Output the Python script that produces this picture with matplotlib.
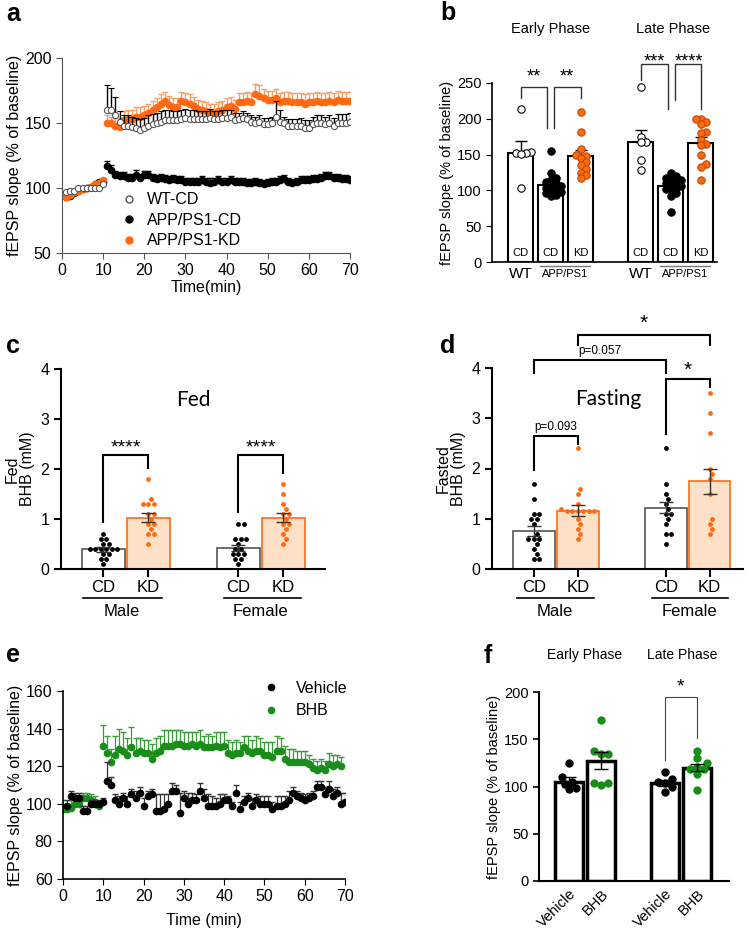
import matplotlib
matplotlib.use("Agg")
import matplotlib.pyplot as plt
from matplotlib.lines import Line2D
import numpy as np

plt.rcParams['font.family'] = ['Liberation Sans', 'DejaVu Sans']

# ---------------- data ----------------
# panel a: time course, t = 1..70 min
time_a = np.arange(1, 71)
wt_cd = [97, 98, 98, 100, 100, 100, 100, 100, 100, 103,
         160, 160, 156, 151, 148, 148, 147, 146, 145, 146,
         148, 149, 150, 151, 152, 152, 152, 152, 153, 154,
         153, 153, 153, 153, 153, 154, 153, 153, 154, 154,
         155, 152, 153, 154, 153, 151, 150, 151, 149, 149,
         150, 155, 151, 150, 148, 148, 148, 148, 146, 146,
         149, 150, 150, 149, 150, 148, 150, 150, 150, 151]
wt_cd_err = [1, 1, 1, 1, 1, 1, 1, 1, 1, 2,
             19, 17, 14, 8, 8, 8, 8, 8, 8, 8,
             8, 8, 8, 8, 8, 8, 7, 7, 7, 7,
             7, 7, 6, 6, 6, 7, 6, 6, 6, 6,
             5, 6, 5, 5, 5, 5, 5, 5, 5, 5,
             5, 12, 9, 5, 5, 5, 5, 6, 6, 6,
             6, 6, 6, 6, 6, 6, 7, 7, 7, 7]
app_cd = [93, 94, 96, 98, 99, 100, 101, 103, 105, 105,
          117, 114, 110, 109, 109, 108, 108, 110, 108, 110,
          110, 108, 107, 108, 107, 106, 107, 106, 106, 105,
          105, 105, 105, 106, 105, 104, 105, 106, 105, 105,
          106, 105, 105, 105, 104, 104, 105, 104, 103, 104,
          105, 105, 106, 107, 105, 104, 105, 106, 106, 106,
          107, 107, 108, 109, 109, 108, 108, 107, 107, 106]
app_cd_err = [1, 1, 1, 1, 1, 1, 1, 1, 1, 1,
              4, 4, 3, 3, 3, 3, 3, 4, 3, 3,
              3, 3, 3, 3, 3, 3, 3, 3, 3, 3,
              3, 3, 3, 3, 3, 4, 3, 3, 3, 3,
              3, 3, 3, 3, 3, 3, 3, 3, 3, 3,
              3, 3, 3, 3, 3, 3, 3, 3, 3, 3,
              3, 3, 3, 3, 3, 3, 3, 3, 3, 3]
app_kd = [93, 95, 97, 98, 99, 100, 101, 103, 104, 106,
          150, 150, 148, 147, 152, 153, 153, 155, 155, 156,
          158, 160, 162, 165, 167, 164, 162, 162, 167, 166,
          165, 163, 161, 160, 159, 158, 158, 159, 160, 162,
          163, 161, 166, 166, 167, 166, 172, 171, 169, 168,
          168, 169, 166, 167, 167, 166, 166, 166, 165, 166,
          166, 167, 166, 166, 167, 166, 168, 167, 167, 167]
app_kd_err = [1, 1, 1, 1, 1, 1, 1, 1, 1, 1,
              6, 5, 6, 7, 7, 7, 7, 7, 7, 7,
              7, 7, 7, 7, 7, 7, 7, 7, 7, 7,
              7, 7, 7, 7, 7, 7, 7, 7, 7, 7,
              7, 7, 7, 7, 7, 7, 8, 8, 7, 7,
              7, 7, 7, 7, 7, 7, 7, 7, 7, 7,
              7, 7, 7, 7, 7, 7, 7, 7, 7, 7]

# panel b: early / late phase
b_labels = ['CD', 'CD', 'KD']
b_early_means = [152, 108, 148]
b_early_sem = [17, 4, 8]
b_late_means = [168, 106, 166]
b_late_sem = [17, 4, 8]
b_early_pts = [[214, 153, 152, 152, 151, 104],
               [155, 124, 118, 115, 112, 110, 108, 106, 104, 102, 100, 98, 96, 94, 92],
               [210, 182, 158, 150, 148, 145, 140, 135, 130, 125, 122, 117]]
b_late_pts = [[244, 174, 168, 167, 143, 128],
              [125, 120, 118, 116, 114, 112, 110, 108, 106, 104, 102, 100, 96, 92, 70],
              [200, 200, 196, 193, 181, 180, 170, 165, 163, 150, 137, 132, 115]]

# panel c: fed BHB (mM) -> male CD, male KD, female CD, female KD
c_means = [0.40, 1.03, 0.43, 1.03]
c_sem = [0.05, 0.09, 0.06, 0.09]
c_pts = [[0.7, 0.6, 0.6, 0.5, 0.5, 0.4, 0.4, 0.4, 0.4, 0.4, 0.4, 0.3, 0.3, 0.2, 0.2, 0.1],
         [1.8, 1.4, 1.3, 1.3, 1.3, 1.1, 1.1, 1.0, 0.9, 0.9, 0.8, 0.7, 0.7, 0.5],
         [0.9, 0.9, 0.6, 0.6, 0.6, 0.5, 0.4, 0.4, 0.3, 0.3, 0.3, 0.2, 0.2, 0.1],
         [1.7, 1.5, 1.3, 1.2, 1.1, 1.1, 1.0, 0.9, 0.9, 0.8, 0.7, 0.6, 0.5]]

# panel d: fasted BHB (mM)
d_means = [0.75, 1.16, 1.22, 1.75]
d_sem = [0.10, 0.11, 0.11, 0.25]
d_pts = [[1.7, 1.4, 1.1, 1.1, 1.0, 1.0, 0.9, 0.7, 0.6, 0.6, 0.6, 0.5, 0.4, 0.3, 0.2, 0.2],
         [2.4, 1.6, 1.5, 1.3, 1.2, 1.15, 1.15, 1.15, 1.15, 1.15, 1.15, 1.0, 0.9, 0.8, 0.7, 0.6],
         [2.4, 1.7, 1.5, 1.4, 1.3, 1.2, 1.1, 1.1, 1.0, 0.9, 0.7, 0.7, 0.5],
         [3.5, 3.1, 2.7, 2.0, 1.9, 1.8, 1.5, 1.0, 0.9, 0.8, 0.7]]
cd_kd_labels = ['CD', 'KD', 'CD', 'KD']

# panel e: vehicle vs BHB time course
time_veh = np.arange(1, 71)
vehicle = [99, 104, 103, 103, 96, 96, 100, 100, 100, 101,
           112, 110, 102, 100, 103, 100, 105, 103, 106, 99,
           104, 105, 96, 96, 97, 100, 107, 107, 95, 103,
           100, 102, 102, 107, 103, 99, 99, 99, 100, 102,
           102, 99, 106, 97, 101, 103, 99, 102, 100, 100,
           100, 97, 99, 99, 100, 102, 106, 104, 103, 102,
           103, 104, 109, 109, 105, 108, 104, 106, 100, 101]
vehicle_err = [3, 3, 3, 3, 3, 3, 2, 2, 2, 2,
               10, 4, 3, 4, 3, 4, 3, 4, 3, 4,
               3, 3, 9, 9, 8, 5, 4, 3, 11, 4,
               6, 4, 3, 4, 5, 6, 5, 4, 5, 3,
               2, 2, 4, 4, 3, 3, 4, 3, 4, 4,
               4, 4, 5, 5, 4, 5, 3, 3, 3, 3,
               3, 3, 3, 3, 4, 4, 4, 3, 6, 5]
time_bhb = np.arange(0, 70)
bhb = [97, 97, 98, 100, 100, 103, 103, 102, 101, 99,
       131, 127, 122, 126, 129, 128, 126, 130, 127, 128,
       127, 127, 124, 127, 128, 131, 131, 131, 132, 132,
       131, 131, 132, 131, 132, 130, 130, 130, 131, 130,
       131, 127, 126, 127, 127, 130, 128, 127, 128, 128,
       126, 126, 125, 128, 128, 124, 122, 122, 122, 122,
       122, 121, 119, 118, 119, 118, 121, 120, 121, 120]
bhb_err = [5, 3, 4, 3, 3, 3, 3, 3, 3, 2,
           11, 9, 7, 10, 11, 10, 9, 11, 8, 7,
           7, 7, 8, 8, 8, 8, 8, 8, 7, 7,
           7, 7, 6, 7, 7, 6, 7, 6, 7, 8,
           7, 7, 7, 7, 6, 6, 8, 7, 8, 7,
           7, 7, 8, 8, 7, 7, 7, 7, 6, 6,
           6, 5, 5, 5, 5, 5, 6, 6, 5, 5]

# panel f: early / late phase, vehicle vs BHB
f_labels = ['Vehicle', 'BHB', 'Vehicle', 'BHB']
f_means = [105, 127, 104, 120]
f_sem = [5, 9, 3, 4]
f_pts = [[125, 110, 105, 103, 98, 97],
         [170, 138, 134, 134, 104, 104, 102],
         [115, 108, 105, 104, 99, 94],
         [138, 130, 125, 121, 118, 118, 113, 96]]

ORANGE = '#ff6a10'
ORANGE_L = '#f9a06a'
PEACH = '#fde0c6'
GREEN = '#1a8c1a'

fig = plt.figure(figsize=(7.5, 9.32), dpi=100)


def px_axes(l, t, r, b):
    return fig.add_axes([l / 750, 1 - b / 932, (r - l) / 750, (b - t) / 932])


def swarm(ax, xc, vals, dpx):
    # simple beeswarm: returns x positions (data) for the points
    vals = np.asarray(vals, float)
    pts = ax.transData.transform(np.column_stack([np.full(len(vals), xc), vals]))
    x0 = pts[0, 0]
    out = np.full(len(vals), x0)
    placed = []
    for i in np.argsort(vals):
        y = pts[i, 1]
        for k in range(40):
            off = ((k + 1) // 2) * (1 if k % 2 else -1) * dpx * 0.5
            x = x0 + off
            if all((x - px) ** 2 + (y - py) ** 2 >= (dpx * 0.95) ** 2 for px, py in placed):
                break
        placed.append((x, y))
        out[i] = x
    inv = ax.transData.inverted()
    return inv.transform(np.column_stack([out, vals]))[:, 0]


def bracket(ax, x1, x2, ytop, yl, yr, color='black', lw=1.5):
    ax.plot([x1, x1, x2, x2], [yl, ytop, ytop, yr], color=color, lw=lw,
            clip_on=False, solid_joinstyle='miter')


def letter(x, y, s):
    fig.text(x / 750, 1 - y / 932, s, fontsize=18, fontweight='bold', va='baseline')


# ---------------- panel a ----------------
ax = px_axes(62, 58, 350, 253)
ax.errorbar(time_a, app_cd, yerr=[np.zeros(70), app_cd_err], fmt='o', ms=4.5,
            mfc='black', mec='black', ecolor='black', elinewidth=1, capsize=2.5, zorder=2)
ax.errorbar(time_a, app_kd, yerr=[np.zeros(70), app_kd_err], fmt='o', ms=4.5,
            mfc=ORANGE, mec=ORANGE, ecolor=ORANGE_L, elinewidth=1, capsize=2.5, zorder=3)
ax.errorbar(time_a, wt_cd, yerr=[np.zeros(70), wt_cd_err], fmt='o', ms=4.5,
            mfc='white', mec='#555555', mew=0.8, ecolor='black', elinewidth=1, capsize=2.5, zorder=4)
ax.set_xlim(0, 70)
ax.set_ylim(50, 200)
ax.set_xticks(range(0, 71, 10))
ax.set_yticks([50, 100, 150, 200])
for s in ['top', 'right']:
    ax.spines[s].set_visible(False)
for s in ['left', 'bottom']:
    ax.spines[s].set_color('#555555')
ax.tick_params(colors='#555555', labelcolor='black', labelsize=11.5, length=4)
ax.set_xlabel('Time(min)', fontsize=11.5, labelpad=1)
ax.set_ylabel('fEPSP slope (% of baseline)', fontsize=11.5, labelpad=2)
handles = [Line2D([], [], ls='none', marker='o', ms=5, mfc='white', mec='#555555'),
           Line2D([], [], ls='none', marker='o', ms=5, mfc='black', mec='black'),
           Line2D([], [], ls='none', marker='o', ms=5, mfc=ORANGE, mec=ORANGE)]
ax.legend(handles, ['WT-CD', 'APP/PS1-CD', 'APP/PS1-KD'], loc='lower left',
          bbox_to_anchor=(0.15, -0.05), frameon=False, fontsize=11.5,
          handletextpad=0.5, labelspacing=0.35, handlelength=1.2)

# ---------------- panel b ----------------
ax = px_axes(492, 83, 717, 262)
ax.set_xlim(-0.95, 6.55)
ax.set_ylim(0, 250)
b_pos = [[0, 1, 2], [4, 5, 6]]
b_face = ['white', 'black', ORANGE]
b_edge = ['black', 'black', '#c24a00']
for pos, means, sem, pts in [(b_pos[0], b_early_means, b_early_sem, b_early_pts),
                             (b_pos[1], b_late_means, b_late_sem, b_late_pts)]:
    ax.bar(pos, means, width=0.86, color='white', edgecolor='black', lw=1.5, zorder=1)
    ax.errorbar(pos, means, yerr=[[0] * 3, sem], fmt='none', ecolor='black',
                elinewidth=1, capsize=4, zorder=2)
    for i in range(3):
        xs = swarm(ax, pos[i], pts[i], 5)
        ax.scatter(xs, pts[i], s=28, c=b_face[i], edgecolors=b_edge[i], linewidths=0.8, zorder=3)
        ax.text(pos[i], 12, b_labels[i], ha='center', va='center', fontsize=8, zorder=4)
    ax.text(pos[0], -17, 'WT', ha='center', va='center', fontsize=11, clip_on=False)
    ax.text((pos[1] + pos[2]) / 2, -17, 'APP/PS1', ha='center', va='center', fontsize=8)
    ax.plot([pos[1] - 0.35, pos[2] + 0.3], [-6, -6], color='#777777', lw=1, clip_on=False)
ax.text(1.0, 325, 'Early Phase', ha='center', va='center', fontsize=10.5)
ax.text(5.1, 325, 'Late Phase', ha='center', va='center', fontsize=10.5)
bracket(ax, 0, 0.88, 244, 229, 187, color='#333333', lw=1)
bracket(ax, 1.12, 2.0, 244, 187, 229, color='#333333', lw=1)
ax.text(0.44, 258, '**', ha='center', va='center', fontsize=13)
ax.text(1.56, 258, '**', ha='center', va='center', fontsize=13)
bracket(ax, 4.0, 4.9, 277, 254, 213, color='#333333', lw=1)
bracket(ax, 5.15, 6.0, 277, 226, 213, color='#333333', lw=1)
ax.text(4.45, 280, '***', ha='center', va='center', fontsize=13)
ax.text(5.6, 280, '****', ha='center', va='center', fontsize=13)
ax.set_xticks([])
ax.set_yticks(range(0, 251, 50))
for s in ['top', 'right']:
    ax.spines[s].set_visible(False)
for s in ['left', 'bottom']:
    ax.spines[s].set_linewidth(1.2)
ax.tick_params(labelsize=10.5, length=4)
ax.set_ylabel('fEPSP slope (% of baseline)', fontsize=10.5, labelpad=2)


# ---------------- panels c, d ----------------
def bhb_panel(ax, means, sem, pts, ylabel, title, title_x, group_lines):
    pos = [0, 1, 3, 4]
    faces = ['white', PEACH, 'white', PEACH]
    edges = ['#555555', ORANGE, '#555555', ORANGE]
    dots = ['black', ORANGE, 'black', ORANGE]
    ax.set_ylim(0, 4)
    for i in range(4):
        ax.bar(pos[i], means[i], width=0.95, color=faces[i], edgecolor=edges[i], lw=1.2, zorder=1)
        ax.errorbar(pos[i], means[i], yerr=sem[i], fmt='none', ecolor='#333333',
                    elinewidth=1, capsize=5, zorder=3)
        xs = swarm(ax, pos[i], pts[i], 5.5)
        ax.scatter(xs, pts[i], s=12, c=dots[i], linewidths=0, zorder=2)
    ax.set_xticks(pos)
    ax.set_xticklabels(cd_kd_labels, fontsize=12)
    ax.set_yticks(range(5))
    for s in ['top', 'right']:
        ax.spines[s].set_visible(False)
    for s in ['left', 'bottom']:
        ax.spines[s].set_linewidth(1.5)
    ax.tick_params(axis='y', labelsize=11.5, length=5, width=1.5)
    ax.tick_params(axis='x', length=6, width=1.5, pad=2)
    ax.set_ylabel(ylabel, fontsize=11.5, labelpad=4, linespacing=1.0)
    ax.text(title_x, 3.39, title, ha='center', va='center', fontsize=15, family='Lato')
    for (x1, x2, xt, name) in group_lines:
        ax.plot([x1, x2], [-0.57, -0.57], color='black', lw=1.2, clip_on=False)
        ax.text(xt, -0.84, name, ha='center', va='center', fontsize=12)


ax = px_axes(61, 369, 325, 569)
ax.set_xlim(-0.94, 4.93)
bhb_panel(ax, c_means, c_sem, c_pts, 'Fed\nBHB (mM)', 'Fed', 2.0,
          [(-0.44, 1.3, 0.42, 'Male'), (2.68, 4.4, 3.5, 'Female')])
bracket(ax, 0, 1, 2.29, 0.95, 2.03)
bracket(ax, 3, 4, 2.29, 1.14, 1.93)
ax.text(0.5, 2.42, '****', ha='center', va='center', fontsize=14)
ax.text(3.5, 2.42, '****', ha='center', va='center', fontsize=14)

ax = px_axes(492, 368, 743, 569)
ax.set_xlim(-0.95, 4.76)
bhb_panel(ax, d_means, d_sem, d_pts, 'Fasted\nBHB (mM)', 'Fasting', 1.69,
          [(-0.38, 1.36, 0.48, 'Male'), (2.68, 4.42, 3.55, 'Female')])
bracket(ax, 0, 1, 2.65, 1.97, 2.49)
ax.text(0.5, 2.83, 'p=0.093', ha='center', va='center', fontsize=8.5)
bracket(ax, 3, 4, 3.79, 2.69, 3.62)
ax.text(3.5, 3.96, '*', ha='center', va='center', fontsize=15)
bracket(ax, 0, 3, 4.15, 3.9, 3.9)
ax.text(1.5, 4.33, 'p=0.057', ha='center', va='center', fontsize=8.5)
bracket(ax, 1, 4, 4.65, 4.45, 4.45)
ax.text(2.5, 4.88, '*', ha='center', va='center', fontsize=15)

# ---------------- panel e ----------------
ax = px_axes(63, 691, 345, 879)
ax.errorbar(time_veh, vehicle, yerr=[np.zeros(70), vehicle_err], fmt='o', ms=4.5,
            mfc='black', mec='black', ecolor='#333333', elinewidth=0.9, capsize=2.5, zorder=3)
ax.errorbar(time_bhb, bhb, yerr=[np.zeros(70), bhb_err], fmt='o', ms=4.5,
            mfc=GREEN, mec=GREEN, ecolor='#3a9a3a', elinewidth=0.9, capsize=2.5, zorder=2)
ax.set_xlim(0, 70)
ax.set_ylim(60, 160)
ax.set_xticks(range(0, 71, 10))
ax.set_yticks(range(60, 161, 20))
for s in ['top', 'right']:
    ax.spines[s].set_visible(False)
for s in ['left', 'bottom']:
    ax.spines[s].set_linewidth(1.2)
ax.tick_params(labelsize=11.5, length=4)
ax.set_xlabel('Time (min)', fontsize=11.5, labelpad=6)
ax.set_ylabel('fEPSP slope (% of baseline)', fontsize=11.5, labelpad=2)
handles = [Line2D([], [], ls='none', marker='o', ms=4.5, mfc='black', mec='black'),
           Line2D([], [], ls='none', marker='o', ms=4.5, mfc=GREEN, mec=GREEN)]
ax.legend(handles, ['Vehicle', 'BHB'], loc='upper left', bbox_to_anchor=(0.66, 1.13),
          frameon=False, fontsize=11.5, handletextpad=1.0, labelspacing=0.45, handlelength=1.0)

# ---------------- panel f ----------------
ax = px_axes(539, 692, 729, 881)
ax.set_xlim(-0.93, 5.0)
ax.set_ylim(0, 200)
f_pos = [0, 1, 3, 4]
f_dots = ['black', GREEN, 'black', GREEN]
for i in range(4):
    ax.bar(f_pos[i], f_means[i], width=0.88, color='white', edgecolor='black', lw=2.5, zorder=1)
    ax.errorbar(f_pos[i], f_means[i], yerr=f_sem[i], fmt='none', ecolor='black',
                elinewidth=1, capsize=5, zorder=3)
    xs = swarm(ax, f_pos[i], f_pts[i], 7)
    ax.scatter(xs, f_pts[i], s=36, c=f_dots[i], linewidths=0, zorder=2)
ax.set_xticks(f_pos)
ax.set_xticklabels(f_labels, rotation=45, ha='right', rotation_mode='anchor', fontsize=10.5)
ax.set_yticks(range(0, 201, 50))
for s in ['top', 'right']:
    ax.spines[s].set_visible(False)
for s in ['left', 'bottom']:
    ax.spines[s].set_linewidth(1.5)
ax.tick_params(axis='y', labelsize=10.5, length=4, width=1.2)
ax.tick_params(axis='x', length=0, pad=4)
ax.set_ylabel('fEPSP slope (% of baseline)', fontsize=10.5, labelpad=2)
ax.text(0.5, 239, 'Early Phase', ha='center', va='center', fontsize=10)
ax.text(3.55, 239, 'Late Phase', ha='center', va='center', fontsize=10)
bracket(ax, 3, 4, 195, 128, 151, color='#444444', lw=0.8)
ax.text(3.5, 205, '*', ha='center', va='center', fontsize=14)

# panel letters
letter(6, 21, 'a')
letter(440, 20, 'b')
letter(6, 353, 'c')
letter(440, 353, 'd')
letter(6, 662, 'e')
letter(484, 663, 'f')

fig.savefig('out.png', dpi=100)
